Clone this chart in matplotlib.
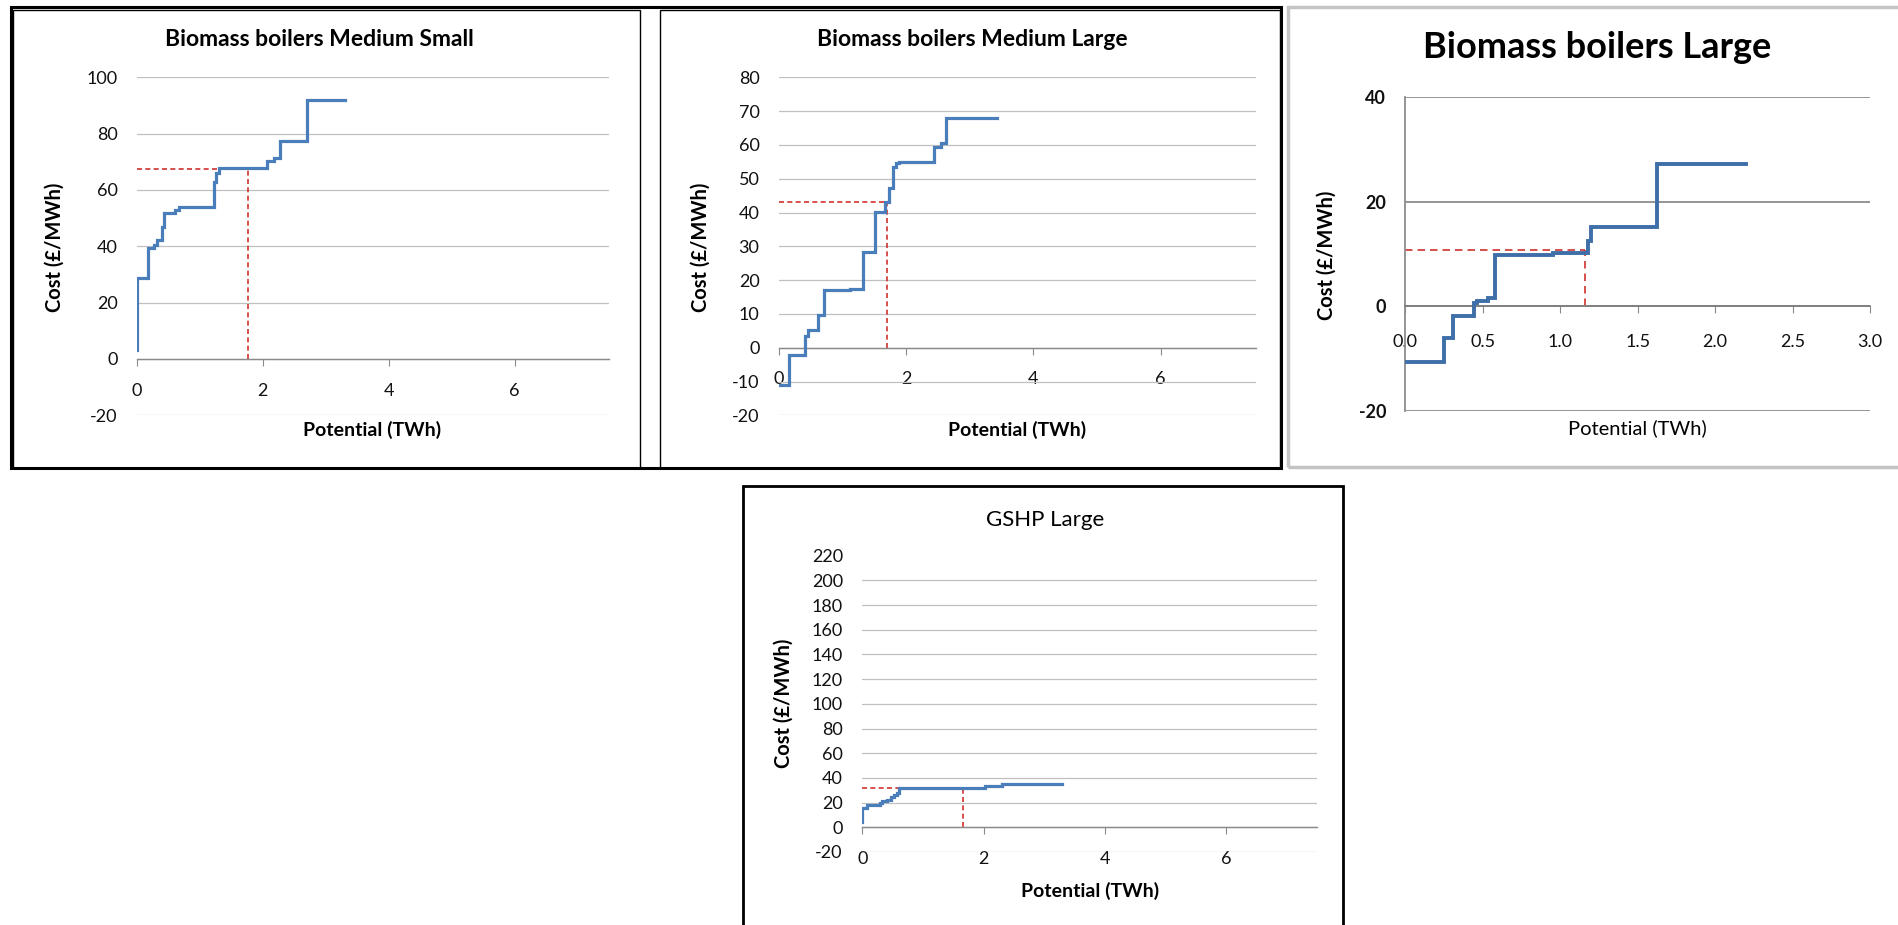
import matplotlib
matplotlib.use("Agg")
import matplotlib.pyplot as plt
from matplotlib.patches import Rectangle

plt.rcParams['font.family'] = ['Lato', 'DejaVu Sans']
plt.rcParams['axes.unicode_minus'] = False

# step curves: potential (TWh) / cost (GBP/MWh)
ms_x = [0.00, 0.00, 0.18, 0.27, 0.31, 0.39, 0.43, 0.60, 0.67, 1.22, 1.25, 1.30, 2.07, 2.18, 2.27, 2.70, 3.30]
ms_y = [3.3, 28.7, 39.5, 40.5, 42.2, 46.8, 51.9, 53.0, 54.0, 62.8, 66.0, 67.7, 70.4, 71.5, 77.5, 91.9, 91.9]

ml_x = [0.00, 0.15, 0.41, 0.45, 0.61, 0.71, 1.12, 1.32, 1.51, 1.67, 1.73, 1.80, 1.84, 1.89, 2.43, 2.55, 2.62, 3.42]
ml_y = [-11.0, -2.2, 3.6, 5.2, 9.7, 17.0, 17.3, 28.3, 40.2, 43.0, 47.3, 53.5, 54.5, 54.8, 59.5, 60.7, 68.1, 68.1]

lg_x = [0.00, 0.25, 0.31, 0.44, 0.46, 0.53, 0.58, 0.95, 1.18, 1.20, 1.625, 2.20]
lg_y = [-10.6, -6.0, -1.8, 0.6, 1.0, 1.5, 9.9, 10.2, 12.5, 15.2, 27.3, 27.3]

gs_x = [0.00, 0.00, 0.07, 0.30, 0.33, 0.40, 0.48, 0.52, 0.58, 0.60, 2.02, 2.31, 3.29]
gs_y = [4.0, 15.5, 17.8, 19.5, 21.5, 22.5, 24.5, 26.0, 27.5, 31.5, 33.5, 35.2, 35.2]

# red dashed marker (potential, cost)
ms_mark = (1.77, 67.5)
ml_mark = (1.70, 43.0)
lg_mark = (1.16, 10.8)
gs_mark = (1.66, 31.5)

W, H = 1899, 925
fig = plt.figure(figsize=(W / 100, H / 100), dpi=100)
fig.patch.set_facecolor('white')


def add_ax(x0, x1, ytop, ybot):
    return fig.add_axes([x0 / W, 1 - ybot / H, (x1 - x0) / W, (ybot - ytop) / H])


def ftext(x, y, s, **kw):
    fig.text(x / W, 1 - y / H, s, ha='center', va='center', **kw)


def frame(x0, y0, x1, y1, color='black', lw=1.0):
    fig.add_artist(Rectangle((x0 / W, 1 - y1 / H), (x1 - x0) / W, (y1 - y0) / H,
                             transform=fig.transFigure, fill=False, ec=color, lw=lw))


def excel_panel(ax, xs, ys, mark, xlim, ylim, yticks, xticks, xfmt, grid_col, dark=False):
    ax.set_xlim(*xlim)
    ax.set_ylim(*ylim)
    ax.set_yticks(yticks)
    ax.set_xticks(xticks)
    ax.set_xticklabels([xfmt.format(v) for v in xticks])
    ax.grid(axis='y', color=grid_col, lw=1.3 if dark else 0.9)
    ax.set_axisbelow(True)
    for s in ['top', 'right']:
        ax.spines[s].set_visible(False)
    ax.spines['left'].set_visible(dark)
    ax.spines['left'].set_color(grid_col)
    ax.spines['left'].set_linewidth(1.3)
    ax.spines['bottom'].set_position(('data', 0))
    ax.spines['bottom'].set_color('#7f7f7f' if dark else '#8a8a8a')
    ax.spines['bottom'].set_linewidth(1.3 if dark else 1.0)
    ax.tick_params(axis='y', length=0, pad=14, labelsize=13, labelcolor='#111111')
    ax.tick_params(axis='x', direction='out', length=5, color='#8a8a8a', pad=12,
                   labelsize=13, labelcolor='#111111')
    ax.plot(xs, ys, drawstyle='steps-post', color='#3e6fa8' if dark else '#4a7ebb',
            lw=2.8 if dark else 2.3, solid_joinstyle='miter', zorder=3)
    mx, my = mark
    dash = (4.5, 3) if dark else (3, 2)
    ax.plot([xlim[0], mx], [my, my], color='#d0312d', lw=1.2, dashes=dash, zorder=2)
    ax.plot([mx, mx], [0, my], color='#d0312d', lw=1.2, dashes=dash, zorder=2)


# frames
frame(11, 7, 1281, 468, lw=2.2)
frame(13, 10, 640, 468, lw=1.0)
frame(660, 10, 1280, 468, lw=1.0)
frame(1288, 7, 1905, 467, color='#c4c4c4', lw=2.5)
frame(743, 486, 1343, 935, lw=2.0)

# Biomass boilers Medium Small
ax1 = add_ax(137, 609, 77.3, 415.3)
excel_panel(ax1, ms_x, ms_y, ms_mark, (0, 7.5), (-20, 100), range(-20, 101, 20),
            [0, 2, 4, 6], '{:d}', '#c0c0c0')
ftext(319, 40, 'Biomass boilers Medium Small', fontsize=16.5, fontweight='bold')
ftext(372, 430, 'Potential (TWh)', fontsize=14, fontweight='bold')
ftext(55, 247, 'Cost (£/MWh)', fontsize=14.5, fontweight='bold', rotation=90)

# Biomass boilers Medium Large
ax2 = add_ax(779, 1256, 77.3, 415.3)
excel_panel(ax2, ml_x, ml_y, ml_mark, (0, 7.5), (-20, 80), range(-20, 81, 10),
            [0, 2, 4, 6], '{:d}', '#c0c0c0')
ftext(972, 40, 'Biomass boilers Medium Large', fontsize=16.5, fontweight='bold')
ftext(1017, 430, 'Potential (TWh)', fontsize=14, fontweight='bold')
ftext(701, 247, 'Cost (£/MWh)', fontsize=14.5, fontweight='bold', rotation=90)

# Biomass boilers Large
ax3 = add_ax(1405.5, 1870, 97.3, 410.7)
excel_panel(ax3, lg_x, lg_y, lg_mark, (0, 3.0), (-20, 40), [-20, 0, 20, 40],
            [0, 0.5, 1.0, 1.5, 2.0, 2.5, 3.0], '{:.1f}', '#8c8c8c', dark=True)
ax3.tick_params(axis='x', pad=15)
for t in ax3.get_yticklabels():
    t.set_fontweight('bold')
ftext(1597, 48, 'Biomass boilers Large', fontsize=26, fontweight='bold')
ftext(1637, 428, 'Potential (TWh)', fontsize=14.5)
ftext(1327, 255, 'Cost (£/MWh)', fontsize=14.5, fontweight='bold', rotation=90)

# GSHP Large
ax4 = add_ax(862.3, 1317, 555.6, 852)
excel_panel(ax4, gs_x, gs_y, gs_mark, (0, 7.5), (-20, 220), range(-20, 221, 20),
            [0, 2, 4, 6], '{:d}', '#c0c0c0')
ax4.yaxis.get_gridlines()[-1].set_visible(False)
ftext(1045, 520, 'GSHP Large', fontsize=16)
ftext(1090, 891, 'Potential (TWh)', fontsize=14, fontweight='bold')
ftext(784, 703, 'Cost (£/MWh)', fontsize=14.5, fontweight='bold', rotation=90)

fig.savefig('out.png', dpi=100, facecolor='white')
